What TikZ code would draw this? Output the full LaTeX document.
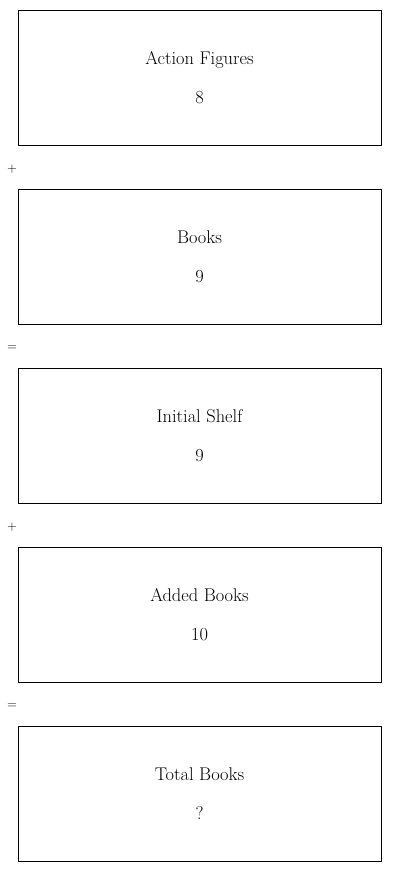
\documentclass[tikz,border=0pt]{standalone}
\usetikzlibrary{positioning, calc}

\begin{document}
\begin{tikzpicture}[
  x=1pt, y=1pt,
  font=\fontsize{18.4}{21}\selectfont,
  qbox/.style={draw=black, line width=0.8pt, align=center, inner sep=0pt,
               outer sep=0pt, minimum width=363pt, minimum height=135pt},
  opsign/.style={inner sep=0pt, anchor=center, font=\fontsize{13}{15}\selectfont}
]
\useasboundingbox (0,0) rectangle (400,-872);
\node[qbox] (figs) at (199.5,-77.5) {Action Figures\\[18pt]8};
\node[qbox, below=44pt of figs] (books) {Books\\[18pt]9};
\node[qbox, below=44pt of books] (shelf) {Initial Shelf\\[18pt]9};
\node[qbox, below=44pt of shelf] (added) {Added Books\\[18pt]10};
\node[qbox, below=44pt of added] (total) {Total Books\\[18pt]?};
% operators between the boxes
\node[opsign] (plusa) at ($(figs.south west)!0.5!(books.north west)+(-6,-2)$) {+};
\node[opsign] (eqa) at ($(books.south west)!0.5!(shelf.north west)+(-6,-2)$) {=};
\node[opsign] (plusb) at ($(shelf.south west)!0.5!(added.north west)+(-6,-2)$) {+};
\node[opsign] (eqb) at ($(added.south west)!0.5!(total.north west)+(-6,-2)$) {=};
\end{tikzpicture}
\end{document}
